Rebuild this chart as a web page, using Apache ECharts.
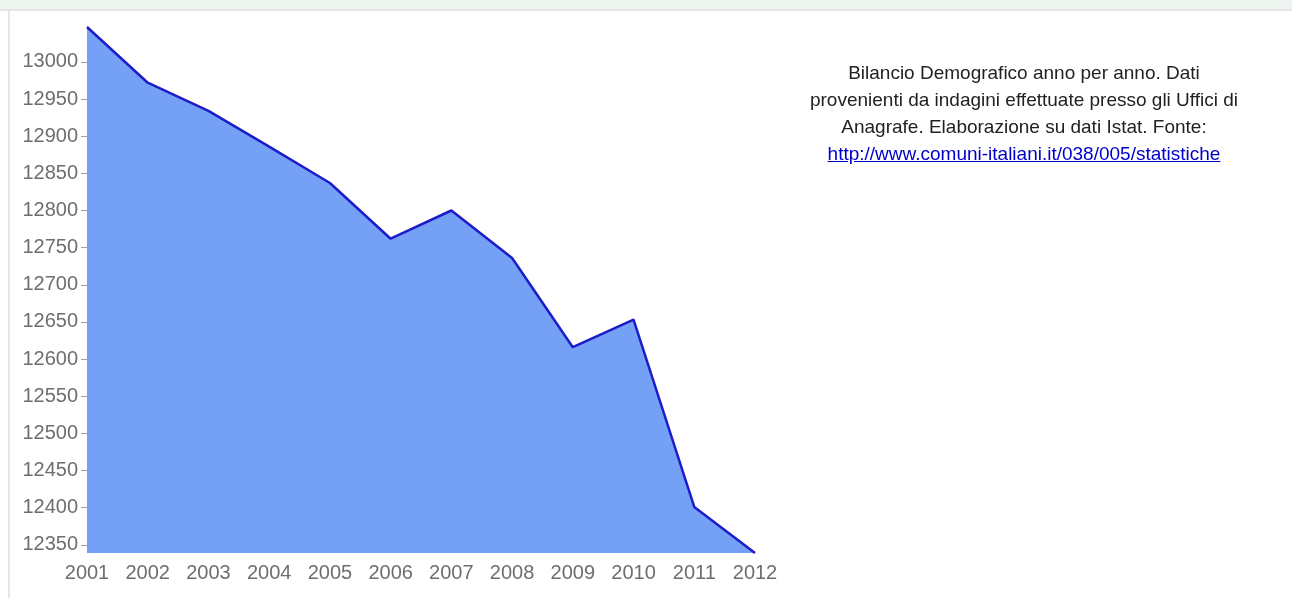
<!DOCTYPE html>
<html>
<head>
<meta charset="utf-8">
<script src="https://cdn.jsdelivr.net/npm/echarts@6/dist/echarts.min.js"></script>
<style>
  html, body { margin: 0; padding: 0; background: #ffffff; }
  #page { position: relative; width: 1292px; height: 598px; overflow: hidden; background: #ffffff; }
  #band { position: absolute; left: 0; top: 0; width: 1292px; height: 9px; background: #eef4f0; border-bottom: 2px solid #e4e6e4; }
  #edge { position: absolute; left: 8px; top: 11px; width: 2px; height: 587px; background: #e6e6e6; }
  #chart { position: absolute; left: 0; top: 0; width: 1292px; height: 598px; }
  #note {
    position: absolute; left: 784px; top: 59px; width: 480px;
    text-align: center; color: #222222;
    font-family: "Liberation Sans", Arial, sans-serif;
    font-size: 19px; line-height: 27px;
  }
  #note a { color: #0000cc; text-decoration: underline; }
</style>
</head>
<body>
<div id="page">
  <div id="band"></div>
  <div id="edge"></div>
  <div id="chart"></div>
  <div id="note">Bilancio Demografico anno per anno. Dati<br>provenienti da indagini effettuate presso gli Uffici di<br>Anagrafe. Elaborazione su dati Istat. Fonte:<br><a href="http://www.comuni-italiani.it/038/005/statistiche">http://www.comuni-italiani.it/038/005/statistiche</a></div>
</div>
<script>
// Resident population, year by year
const years = ['2001', '2002', '2003', '2004', '2005', '2006',
               '2007', '2008', '2009', '2010', '2011', '2012'];
const population = [13047, 12972, 12934, 12886, 12837, 12762,
                    12800, 12736, 12616, 12653, 12401, 12339];
const yTicks = [12350, 12400, 12450, 12500, 12550, 12600, 12650,
                12700, 12750, 12800, 12850, 12900, 12950, 13000];

const chart = echarts.init(document.getElementById('chart'), null, { renderer: 'canvas' });

const labelFont = {
  color: '#6e6e6e',
  fontFamily: '"Liberation Sans", Arial, sans-serif',
  fontSize: 20
};

chart.setOption({
  animation: false,
  backgroundColor: 'transparent',
  grid: { left: 87, right: 537, top: 27, bottom: 45, containLabel: false },
  xAxis: {
    type: 'category',
    data: years,
    boundaryGap: false,
    axisLine: { show: false },
    axisTick: { show: false },
    splitLine: { show: false },
    axisLabel: Object.assign({ margin: 10, interval: 0 }, labelFont)
  },
  yAxis: {
    type: 'value',
    min: 'dataMin',
    max: 'dataMax',
    axisLine: { show: false },
    splitLine: { show: false },
    axisTick: {
      show: true,
      length: 6,
      customValues: yTicks,
      lineStyle: { color: '#a0a0a0', width: 1 }
    },
    axisLabel: Object.assign({
      margin: 9,
      customValues: yTicks,
      formatter: v => String(v)
    }, labelFont)
  },
  series: [{
    type: 'line',
    data: population,
    smooth: false,
    symbol: 'none',
    lineStyle: { color: '#1c1cc8', width: 2.5 },
    areaStyle: { color: '#74a0f6', opacity: 1 }
  }]
});
</script>
</body>
</html>
